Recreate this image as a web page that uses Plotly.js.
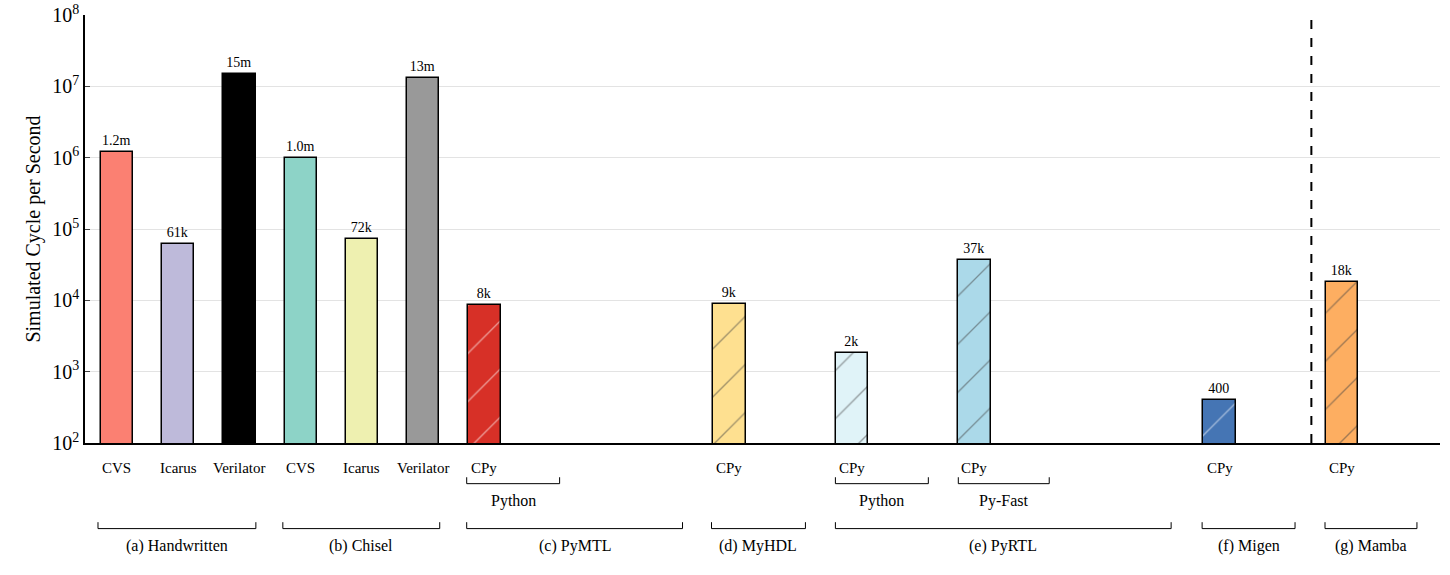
<!DOCTYPE html>
<html>
<head>
<meta charset="utf-8">
<script src="https://cdn.plot.ly/plotly-3.0.1.min.js"></script>
<style>body{margin:0;background:#fff}</style>
</head>
<body>
<div id="chart" style="width:1450px;height:575px"></div>
<script>
// bar slot positions (category index along the axis)
let slots = [0, 1, 2, 3, 4, 5, 6, 10, 12, 14, 18, 20];
let tickNames = ["CVS", "Icarus", "Verilator", "CVS", "Icarus", "Verilator", "CPy", "CPy", "CPy", "CPy", "CPy", "CPy"];
let cyclesPerSec = [1.2e6, 61e3, 15e6, 1.0e6, 72e3, 13e6, 8.5e3, 9e3, 1.8e3, 37e3, 400, 18e3];
let valueLabels = ["1.2m", "61k", "15m", "1.0m", "72k", "13m", "8k", "9k", "2k", "37k", "400", "18k"];
let barColors = ["#FB8072", "#BEBADA", "#000000", "#8DD3C7", "#EEF0B0", "#999999",
                 "#D73027", "#FEE090", "#E0F3F8", "#ABD9E9", "#4575B4", "#FDAE61"];
let hatched = [false, false, false, false, false, false, true, true, true, true, true, true];

// brackets: [label, left px, right px, level]
let groups = [
    ["Python", 467, 560, 1], ["Python", 836, 929, 1], ["Py-Fast", 959, 1050, 1],
    ["(a) Handwritten", 98, 256, 2], ["(b) Chisel", 283, 440, 2], ["(c) PyMTL", 467, 683, 2],
    ["(d) MyHDL", 712, 806, 2], ["(e) PyRTL", 836, 1172, 2], ["(f) Migen", 1203, 1296, 2],
    ["(g) Mamba", 1326, 1418, 2]
];

function px2x(px) { return (px - 117) / 61.3; }

var font = "Liberation Serif, Times New Roman, serif";

var trace = {
    type: "bar",
    x: slots,
    y: cyclesPerSec,
    width: 0.53,
    text: valueLabels,
    textposition: "outside",
    cliponaxis: false,
    textfont: {family: font, size: 14, color: "#000"},
    marker: {
        color: barColors,
        line: {color: "#000", width: 1.5},
        pattern: {
            shape: hatched.map(h => h ? "/" : ""),
            fillmode: "overlay",
            fgcolor: "#444",
            size: 34,
            solidity: 0.04
        }
    },
    hoverinfo: "y"
};

var annotations = [];
var shapes = [];
slots.forEach(function (s, i) {
    annotations.push({xref: "x", yref: "paper", x: s, y: -0.035, yanchor: "top",
        text: tickNames[i], showarrow: false, font: {family: font, size: 15, color: "#000"}});
});
groups.forEach(function (g) {
    var yl = g[3] === 1 ? -0.095 : -0.2, yt = yl + 0.015;
    var x0 = px2x(g[1]), x1 = px2x(g[2]);
    shapes.push({type: "path", xref: "x", yref: "paper",
        path: "M " + x0 + " " + yt + " L " + x0 + " " + yl + " L " + x1 + " " + yl + " L " + x1 + " " + yt,
        line: {color: "#000", width: 1}});
    annotations.push({xref: "x", yref: "paper", x: (x0 + x1) / 2, y: yl - 0.015, yanchor: "top",
        text: g[0], showarrow: false, font: {family: font, size: 16, color: "#000"}});
});
shapes.push({type: "line", xref: "x", yref: "paper", x0: 19.5, x1: 19.5, y0: 0, y1: 1,
    line: {color: "#000", width: 2, dash: "dash"}});

var layout = {
    width: 1450, height: 575,
    margin: {l: 85, r: 10, t: 15, b: 132},
    paper_bgcolor: "#fff", plot_bgcolor: "#fff",
    font: {family: font, color: "#000"},
    showlegend: false,
    bargap: 0,
    xaxis: {range: [-0.522, 21.6], showticklabels: false, ticks: "", showgrid: false,
        zeroline: false, showline: true, linecolor: "#000", linewidth: 1.5},
    yaxis: {type: "log", range: [2, 8],
        tickvals: [1e2, 1e3, 1e4, 1e5, 1e6, 1e7, 1e8],
        ticktext: ["10<sup>2</sup>", "10<sup>3</sup>", "10<sup>4</sup>", "10<sup>5</sup>", "10<sup>6</sup>", "10<sup>7</sup>", "10<sup>8</sup>"],
        ticks: "inside", ticklen: 5, showgrid: true, gridcolor: "#e3e3e3",
        zeroline: false, showline: true, linecolor: "#000", linewidth: 1.5,
        tickfont: {family: font, size: 20, color: "#000"},
        title: {text: "Simulated Cycle per Second", font: {family: font, size: 20, color: "#000"}, standoff: 6}},
    shapes: shapes,
    annotations: annotations
};

Plotly.newPlot("chart", [trace], layout, {displayModeBar: false});
</script>
</body>
</html>
